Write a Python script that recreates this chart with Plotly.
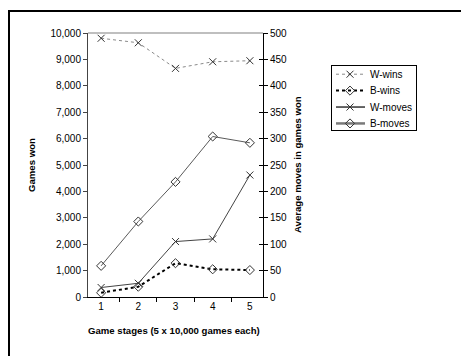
import plotly.graph_objects as go

stages = ["1", "2", "3", "4", "5"]
w_wins = [9800, 9630, 8660, 8910, 8950]
b_wins = [160, 390, 1280, 1050, 1020]
w_moves = [18, 26, 105, 110, 231]
b_moves = [59, 143, 218, 304, 292]
series_names = ["W-wins", "B-wins", "W-moves", "B-moves"]

FONT = "Liberation Sans, Arial, sans-serif"
W, H = 461, 348  # page body has 8px margin

def px(x):
    return x / W

def py(y):
    return 1 - y / H

# plot area (figure pixel coords)
PL, PR, PT, PB = 80, 255, 25, 289

styles = [
    dict(line=dict(color="#8a8a8a", width=1, dash="dot"), sym="x-thin-open", yaxis="y"),
    dict(line=dict(color="#000000", width=2, dash="dot"), sym="diamond-open", yaxis="y"),
    dict(line=dict(color="#444444", width=1), sym="x-thin-open", yaxis="y2"),
    dict(line=dict(color="#5a5a5a", width=1), sym="diamond-open", yaxis="y2"),
]
values = [w_wins, b_wins, w_moves, b_moves]

fig = go.Figure()
for name, vals, st in zip(series_names, values, styles):
    fig.add_trace(go.Scatter(x=stages, y=vals, name=name, mode="lines+markers",
                             xaxis="x", yaxis=st["yaxis"], line=st["line"], showlegend=False,
                             marker=dict(symbol=st["sym"], size=7, color="#333333",
                                         line=dict(color="#333333", width=1))))

# custom legend drawn on an auxiliary axis pair
for i, (name, st) in enumerate(zip(series_names, styles)):
    lw = st["line"].copy()
    if i == 3:
        lw = dict(color="#7a7a7a", width=2.5)
    if i == 2:
        lw = dict(color="#000000", width=1.2)
    fig.add_trace(go.Scatter(x=[4, 33], y=[i, i], mode="lines", xaxis="x3", yaxis="y4",
                             line=lw, showlegend=False, hoverinfo="skip"))
    fig.add_trace(go.Scatter(x=[18], y=[i], mode="markers", xaxis="x3", yaxis="y4",
                             marker=dict(symbol=st["sym"], size=7, color="#333333",
                                         line=dict(color="#333333", width=1)),
                             showlegend=False, hoverinfo="skip"))
    fig.add_annotation(x=36, y=i, xref="x3", yref="y4", text=name, showarrow=False,
                       xanchor="left", yanchor="middle",
                       font=dict(family=FONT, size=10, color="black"))

fig.add_trace(go.Scatter(x=stages, y=[None] * 5, xaxis="x", yaxis="y3",
                         showlegend=False, hoverinfo="skip"))

tickfont = dict(family=FONT, size=10, color="#000000")
titlefont = dict(family=FONT, size=9.6, color="#000000", weight="bold")

ydom = [py(PB), py(PT)]
fig.update_layout(
    width=W, height=H,
    margin=dict(l=0, r=0, t=0, b=0),
    paper_bgcolor="white", plot_bgcolor="white",
    font=dict(family=FONT, size=10, color="black"),
    showlegend=False,
    xaxis=dict(domain=[px(PL), px(PR)], anchor="y", type="category", tickson="boundaries",
               ticks="outside", ticklen=4, tickcolor="#000", showline=True, linecolor="#000",
               linewidth=1, showgrid=False, zeroline=False, tickfont=tickfont, automargin=False),
    yaxis=dict(domain=ydom, anchor="x", range=[0, 10000], dtick=1000, tickformat=",",
               ticks="outside", ticklen=4, tickcolor="#444", showline=True, linecolor="#444",
               linewidth=1, showgrid=False, zeroline=False, tickfont=tickfont, automargin=False),
    yaxis2=dict(domain=ydom, anchor="x", range=[0, 500], dtick=50, overlaying="y", side="right",
                ticks="outside", ticklen=4, tickcolor="#000", showline=True, linecolor="#000",
                linewidth=1, showgrid=False, zeroline=False, tickfont=tickfont, automargin=False),
    yaxis3=dict(domain=ydom, anchor="x", range=[0, 500], dtick=50, overlaying="y", side="right",
                ticks="inside", ticklen=4, tickcolor="#000", showline=False,
                showticklabels=False, showgrid=False, zeroline=False, automargin=False),
    xaxis3=dict(domain=[px(324), px(408)], anchor="y4", range=[0, 84], showline=True,
                mirror=True, linecolor="black", linewidth=1, ticks="", showticklabels=False,
                showgrid=False, zeroline=False, fixedrange=True),
    yaxis4=dict(domain=[py(122), py(58)], anchor="x3", range=[3.4, -0.5], showline=True,
                mirror=True, linecolor="black", linewidth=1, ticks="", showticklabels=False,
                showgrid=False, zeroline=False, fixedrange=True),
)

# axis titles
fig.add_annotation(x=px(24), y=py(157), xref="paper", yref="paper", text="<b>Games won</b>",
                   textangle=-90, showarrow=False, xanchor="center", yanchor="middle",
                   font=titlefont)
fig.add_annotation(x=px(290), y=py(157), xref="paper", yref="paper",
                   text="<b>Average moves in games won</b>", textangle=-90, showarrow=False,
                   xanchor="center", yanchor="middle", font=titlefont)
fig.add_annotation(x=px(166), y=py(322), xref="paper", yref="paper",
                   text="<b>Game stages (5 x 10,000 games each)</b>", showarrow=False,
                   xanchor="center", yanchor="middle", font=titlefont)

# light grey top border of plot area
fig.add_shape(type="line", xref="paper", yref="paper", x0=px(PL), x1=px(PR), y0=py(PT), y1=py(PT),
              line=dict(color="#aaaaaa", width=1.5))
# outer chart frame (top and left edges; right/bottom are cropped off)
fig.add_shape(type="line", xref="paper", yref="paper", x0=px(0), x1=1.0, y0=py(3), y1=py(3),
              line=dict(color="black", width=2))
fig.add_shape(type="line", xref="paper", yref="paper", x0=px(1), x1=px(1), y0=py(2), y1=0,
              line=dict(color="black", width=2))

fig.write_html("out.html")
